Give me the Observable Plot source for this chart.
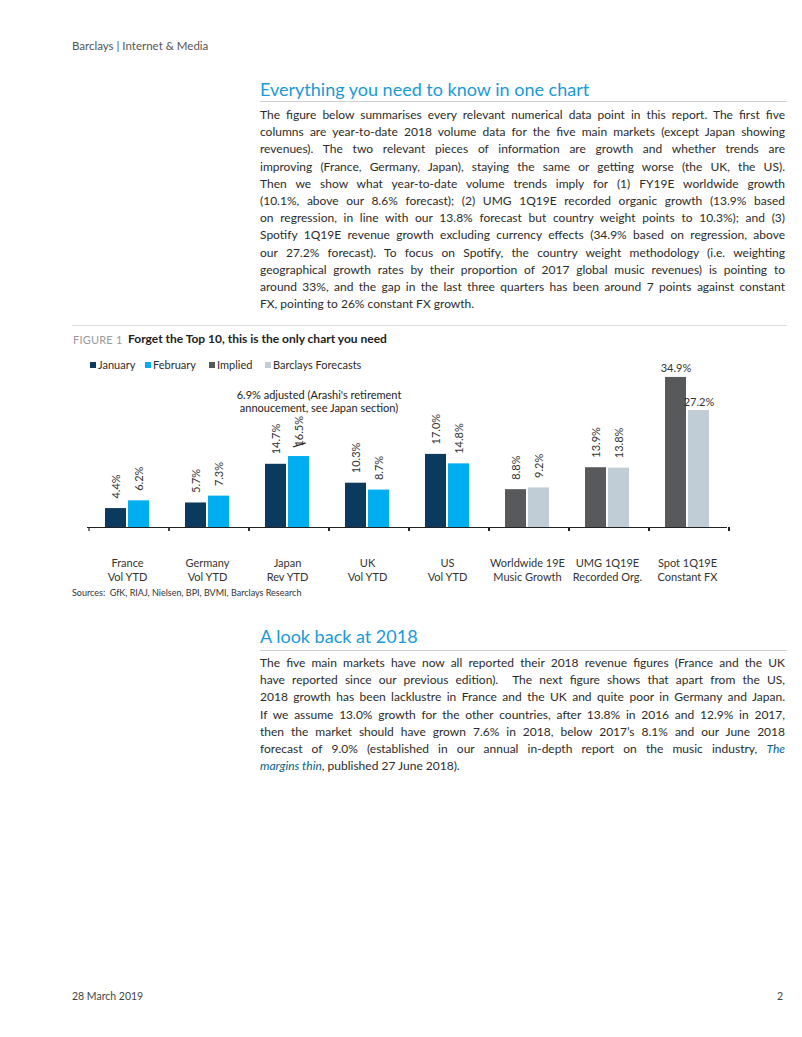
<!DOCTYPE html>
<html>
<head>
<meta charset="utf-8">
<script src="https://cdn.jsdelivr.net/npm/d3@7"></script>
<script src="https://cdn.jsdelivr.net/npm/@observablehq/plot@0.6"></script>
<style>
  html, body { margin: 0; padding: 0; background: #fff; }
  body { font-family: Lato, "Open Sans", sans-serif; color: #2b2b2b; }
  #page { position: relative; width: 802px; height: 1037px; overflow: hidden; }
  .t { position: absolute; white-space: nowrap; line-height: 1; }
  .rule { position: absolute; height: 0; border-top: 1px solid #cfcfcf; }
  .para { position: absolute; left: 260px; width: 525px; font-size: 12px; color: #2b2b2b; }
  .para div { height: 17.2px; line-height: 17.2px; text-align: justify; text-align-last: justify; }
  .para div.last { text-align-last: left; }
  .h { color: #1a9ad6; font-size: 18px; }
  .link { color: #0b5f86; font-style: italic; }
  #legend .sw { position: absolute; width: 6px; height: 6px; }
  #legend .lb { position: absolute; font-size: 11px; line-height: 1; color: #2b2b2b; white-space: nowrap; }
  #chart { position: absolute; left: 0; top: 350px; }
</style>
</head>
<body>
<div id="page">
  <div class="t" style="left:72px; top:40px; font-size:11.5px; color:#555;">Barclays | Internet &amp; Media</div>

  <div class="t h" style="left:260px; top:80px;">Everything you need to know in one chart</div>
  <div class="rule" style="left:260px; width:527px; top:101px;"></div>
  <div class="para" style="top:106px;">
    <div>The figure below summarises every relevant numerical data point in this report. The first five</div>
    <div>columns are year-to-date 2018 volume data for the five main markets (except Japan showing</div>
    <div>revenues). The two relevant pieces of information are growth and whether trends are</div>
    <div>improving (France, Germany, Japan), staying the same or getting worse (the UK, the US).</div>
    <div>Then we show what year-to-date volume trends imply for (1) FY19E worldwide growth</div>
    <div>(10.1%, above our 8.6% forecast); (2) UMG 1Q19E recorded organic growth (13.9% based</div>
    <div>on regression, in line with our 13.8% forecast but country weight points to 10.3%); and (3)</div>
    <div>Spotify 1Q19E revenue growth excluding currency effects (34.9% based on regression, above</div>
    <div>our 27.2% forecast). To focus on Spotify, the country weight methodology (i.e. weighting</div>
    <div>geographical growth rates by their proportion of 2017 global music revenues) is pointing to</div>
    <div>around 33%, and the gap in the last three quarters has been around 7 points against constant</div>
    <div class="last">FX, pointing to 26% constant FX growth.</div>
  </div>

  <div class="rule" style="left:72px; width:715px; top:325px; border-top-color:#dcdcdc;"></div>
  <div class="t" style="left:73px; top:334px; font-size:11px; color:#9a9a9a; letter-spacing:0.2px;">FIGURE 1</div>
  <div class="t" style="left:128px; top:333px; font-size:12px; font-weight:bold; color:#222;">Forget the Top 10, this is the only chart you need</div>

  <div id="chart"></div>
  <div id="legend"></div>

  <div class="t" style="left:72px; top:588px; font-size:9px; color:#333;">Sources:&nbsp; GfK, RIAJ, Nielsen, BPI, BVMI, Barclays Research</div>

  <div class="t h" style="left:260px; top:627px;">A look back at 2018</div>
  <div class="rule" style="left:260px; width:527px; top:650px;"></div>
  <div class="para" style="top:654px;">
    <div>The five main markets have now all reported their 2018 revenue figures (France and the UK</div>
    <div>have reported since our previous edition).&nbsp; The next figure shows that apart from the US,</div>
    <div>2018 growth has been lacklustre in France and the UK and quite poor in Germany and Japan.</div>
    <div>If we assume 13.0% growth for the other countries, after 13.8% in 2016 and 12.9% in 2017,</div>
    <div>then the market should have grown 7.6% in 2018, below 2017’s 8.1% and our June 2018</div>
    <div>forecast of 9.0% (established in our annual in-depth report on the music industry, <span class="link">The</span></div>
    <div class="last"><span class="link">margins thin</span>, published 27 June 2018).</div>
  </div>

  <div class="t" style="left:72px; top:991px; font-size:10.5px; color:#444;">28 March 2019</div>
  <div class="t" style="left:777px; top:991px; font-size:10.5px; color:#444;">2</div>
</div>

<script>
// ---- data ----
const categoryKeys = ["France", "Germany", "Japan", "UK", "US", "Worldwide", "UMG", "Spot"];
const tickLabels = [
  "France\nVol YTD", "Germany\nVol YTD", "Japan\nRev YTD", "UK\nVol YTD", "US\nVol YTD",
  "Worldwide 19E\nMusic Growth", "UMG 1Q19E\nRecorded Org.", "Spot 1Q19E\nConstant FX"
];
const seriesNames = ["January", "February", "Implied", "Barclays Forecasts"];
const firstSeries = ["January", "January", "January", "January", "January", "Implied", "Implied", "Implied"];
const secondSeries = ["February", "February", "February", "February", "February", "Barclays Forecasts", "Barclays Forecasts", "Barclays Forecasts"];
const firstValues = [4.4, 5.7, 14.7, 10.3, 17.0, 8.8, 13.9, 34.9];
const secondValues = [6.2, 7.3, 16.5, 8.7, 14.8, 9.2, 13.8, 27.2];
const japanNote = "6.9% adjusted (Arashi's retirement\nannoucement, see Japan section)";

// ---- styles ----
const seriesColors = ["#0c3a5e", "#00aeef", "#58595b", "#c0cdd6"];

const rows = categoryKeys.flatMap((cat, i) => [
  {cat, slot: "a", series: firstSeries[i], value: firstValues[i]},
  {cat, slot: "b", series: secondSeries[i], value: secondValues[i]}
]);
const fmt = v => v.toFixed(1) + "%";
const horizontalCats = ["Spot"];
const struck = rows.filter(d => d.cat === "Japan" && d.slot === "b");

// tick marks at the boundaries between category bands (drawn with Plot's fx & y scales)
function boundaryTicks(index, scales) {
  const fx = scales.fx, y = scales.y;
  if (!fx || !y) return null;
  const bw = typeof fx.bandwidth === "function" ? fx.bandwidth() : fx.bandwidth;
  const edges = categoryKeys.map(k => fx(k)).concat([fx(categoryKeys[categoryKeys.length - 1]) + bw]);
  const y0 = y(0);
  const g = d3.create("svg:g").attr("stroke", "#222").attr("stroke-width", 1.2);
  g.selectAll("line").data(edges).join("line")
    .attr("x1", d => d).attr("x2", d => d)
    .attr("y1", y0).attr("y2", y0 + 4);
  return g.node();
}

const chart = Plot.plot({
  width: 802,
  height: 240,
  marginLeft: 85,
  marginRight: 73,
  marginTop: 5,
  marginBottom: 63,
  style: {background: "transparent", fontFamily: "Lato, sans-serif", fontSize: "11px", color: "#333", overflow: "visible"},
  fx: {domain: categoryKeys, padding: 0, label: null, axis: null},
  x: {domain: ["a", "b"], paddingInner: 0.08, paddingOuter: 0.72, axis: null},
  y: {domain: [0, 40], axis: null},
  color: {domain: seriesNames, range: seriesColors},
  marks: [
    Plot.barY(rows, {fx: "cat", x: "slot", y: "value", fill: "series"}),
    Plot.ruleY([0], {stroke: "#222", strokeWidth: 1.2}),
    boundaryTicks,
    Plot.text(rows.filter(d => !horizontalCats.includes(d.cat)), {
      fx: "cat", x: "slot", y: "value", text: d => fmt(d.value),
      rotate: -90, textAnchor: "start", dy: -10, fill: "#333", fontSize: 11
    }),
    Plot.text(rows.filter(d => horizontalCats.includes(d.cat)), {
      fx: "cat", x: "slot", y: "value", text: d => fmt(d.value),
      textAnchor: "middle", lineAnchor: "bottom", dy: -5, fill: "#333", fontSize: 11
    }),
    Plot.text(struck, {
      fx: "cat", x: "slot", y: "value", text: () => "\u2014",
      rotate: -18, dy: -12, fill: "#222", fontSize: 20
    }),
    Plot.text(struck, {
      fx: "cat", x: "slot", text: () => japanNote, frameAnchor: "top", lineAnchor: "middle",
      dy: 46, dx: 20, lineHeight: 1.15, fontSize: 11, fill: "#222"
    }),
    Plot.axisFx({
      anchor: "bottom", tickSize: 0, tickPadding: 30, label: null,
      tickFormat: k => tickLabels[categoryKeys.indexOf(k)],
      lineHeight: 1.27, fontSize: 11, fill: "#333"
    })
  ]
});
document.getElementById("chart").appendChild(chart);

// legend built from the chart's own colour scale
const colorScale = chart.scale("color");
const legendLefts = [90, 145, 209, 265];
const legend = document.getElementById("legend");
seriesNames.forEach((name, i) => {
  const sw = document.createElement("div");
  sw.className = "sw";
  sw.style.left = legendLefts[i] + "px";
  sw.style.top = "362px";
  sw.style.background = colorScale.apply(name);
  legend.appendChild(sw);
  const lb = document.createElement("div");
  lb.className = "lb";
  lb.style.left = (legendLefts[i] + 8) + "px";
  lb.style.top = "359px";
  lb.textContent = name;
  legend.appendChild(lb);
});
</script>
</body>
</html>
